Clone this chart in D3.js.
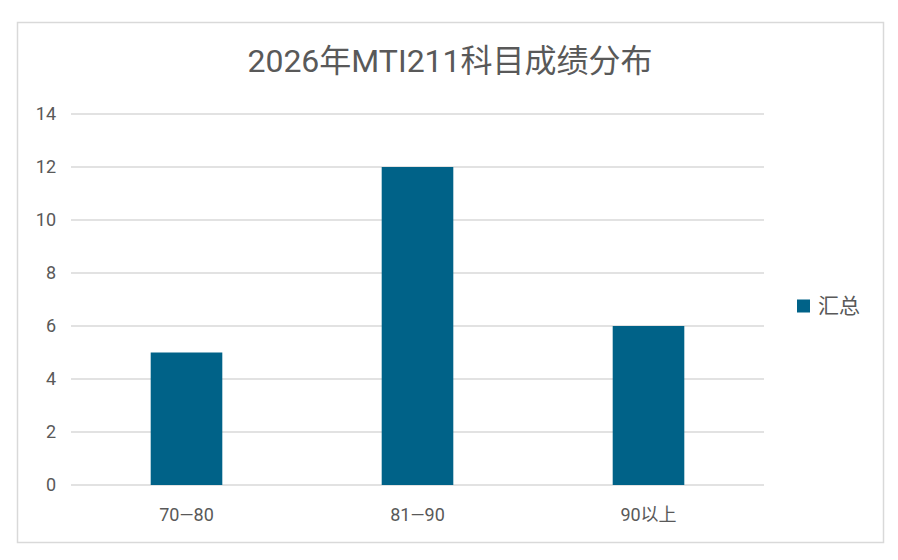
<!DOCTYPE html>
<html><head><meta charset="utf-8">
<script src="https://cdn.jsdelivr.net/npm/d3@7"></script>
<style>body{margin:0;background:#fff}svg{display:block}text{font-family:Roboto,"Noto Sans CJK SC","Noto Sans",sans-serif;fill:#595959}</style>
</head><body>
<script>
const categories = ["70—80", "81—90", "90以上"];
const values = [5, 12, 6];
const yTicks = [0, 2, 4, 6, 8, 10, 12, 14];
const title = "2026年MTI211科目成绩分布";
const seriesName = "汇总";

const W = 898, H = 560;
const svg = d3.select("body").append("svg").attr("width", W).attr("height", H);
svg.append("rect").attr("x", 17.5).attr("y", 22.5).attr("width", 866).attr("height", 520)
  .attr("fill", "#fff").attr("stroke", "#d9d9d9").attr("stroke-width", 1.5);

const x = d3.scaleBand().domain(categories).range([71, 764]).paddingInner(0.69).paddingOuter(0.345);
const y = d3.scaleLinear().domain([0, 14]).range([485, 114]);

svg.append("text").attr("x", 450).attr("y", 72).attr("text-anchor", "middle")
  .style("font-size", "32px").text(title);

const g = svg.append("g");
g.selectAll("line.grid").data(yTicks).join("line")
  .attr("x1", 71).attr("x2", 764).attr("y1", d => y(d)).attr("y2", d => y(d))
  .attr("stroke", "#d9d9d9").attr("stroke-width", 1.5);

g.selectAll("text.yl").data(yTicks).join("text")
  .attr("x", 56).attr("y", d => y(d)).attr("dy", "0.35em").attr("text-anchor", "end")
  .style("font-size", "18px").text(d => d);

g.selectAll("rect.bar").data(values).join("rect")
  .attr("x", (d, i) => x(categories[i])).attr("width", x.bandwidth())
  .attr("y", d => y(d)).attr("height", d => y(0) - y(d)).attr("fill", "#006288");

g.selectAll("text.xl").data(categories).join("text")
  .attr("x", d => x(d) + x.bandwidth() / 2).attr("y", 521).attr("text-anchor", "middle")
  .style("font-size", "18px").text(d => d);

svg.append("rect").attr("x", 797).attr("y", 299.5).attr("width", 13).attr("height", 13).attr("fill", "#006288");
svg.append("text").attr("x", 818).attr("y", 306).attr("dy", "0.35em").style("font-size", "21px").text(seriesName);
</script>
</body></html>
